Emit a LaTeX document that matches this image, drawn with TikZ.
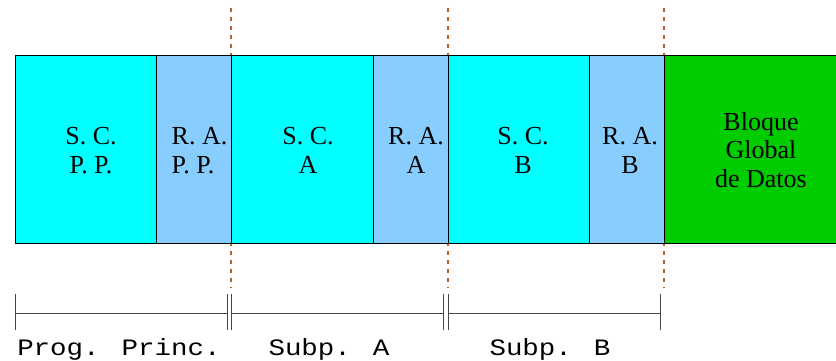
\documentclass[tikz,border=0pt]{standalone}
\usepackage{fontspec}
\setmainfont{Liberation Serif}
\newfontfamily\labelmono{Liberation Mono}
\definecolor{scfill}{RGB}{0,255,255}
\definecolor{rafill}{RGB}{135,206,255}
\definecolor{gbfill}{RGB}{0,204,0}
\definecolor{sepcol}{RGB}{192,96,40}
\definecolor{bracketcol}{RGB}{70,70,70}
\tikzset{
  boxline/.style={draw=black, line width=0.8pt},
  sepline/.style={draw=sepcol, line width=1.1pt, dash pattern=on 4pt off 5pt},
  bracketline/.style={draw=bracketcol, line width=0.9pt},
  boxtext/.style={align=center, anchor=base, font=\fontsize{26}{28.5}\selectfont},
  ratext/.style={align=left, anchor=base, font=\fontsize{26}{28.5}\selectfont},
  monolabel/.style={anchor=base, font=\labelmono\fontsize{23.5}{26}\selectfont}
}
\begin{document}
\begin{tikzpicture}[x=1pt,y=-1pt]
\useasboundingbox (0,0) rectangle (836,361);
\clip (0,0) rectangle (836,361);
% separators (behind boxes)
\foreach \sx in {231,448,664} {
  \draw[sepline] (\sx,8) -- (\sx,288);
}
% boxes
\path[boxline, fill=scfill] (15,55) rectangle (156,243);
\path[boxline, fill=rafill] (156,55) rectangle (231,243);
\path[boxline, fill=scfill] (231,55) rectangle (373,243);
\path[boxline, fill=rafill] (373,55) rectangle (448,243);
\path[boxline, fill=scfill] (448,55) rectangle (589,243);
\path[boxline, fill=rafill] (589,55) rectangle (664,243);
\path[boxline, fill=gbfill] (664,55) rectangle (860,243);
% texts
\node[boxtext] (scpp) at (91,173) {S. C.\\P. P.};
\node[ratext]  (rapp) at (199.5,173) {R. A.\\P. P.};
\node[boxtext] (sca)  at (308,173) {S. C.\\A};
\node[boxtext] (raa)  at (416,173) {R. A.\\A};
\node[boxtext] (scb)  at (523,173) {S. C.\\B};
\node[boxtext] (rab)  at (630,173) {R. A.\\B};
\node[boxtext] (bgd)  at (761,187) {Bloque\\Global\\de Datos};
% brackets
\coordinate (b0) at (15,313);
\coordinate (b1) at (227,313);
\coordinate (b2) at (231,313);
\coordinate (b3) at (443,313);
\coordinate (b4) at (448,313);
\coordinate (b5) at (660,313);
\draw[bracketline] (b0) -- (b1);
\draw[bracketline] (b2) -- (b3);
\draw[bracketline] (b4) -- (b5);
\foreach \c in {b0,b1,b2,b3,b4,b5} {
  \draw[bracketline] ([yshift=-17pt]\c) -- ([yshift=19pt]\c);
}
\node[monolabel] (lpp) at (119,355) {\scalebox{1.17}[1]{Prog. Princ.}};
\node[monolabel] (lsa) at (329,355) {\scalebox{1.17}[1]{Subp. A}};
\node[monolabel] (lsb) at (550,355) {\scalebox{1.17}[1]{Subp. B}};
\end{tikzpicture}
\end{document}
